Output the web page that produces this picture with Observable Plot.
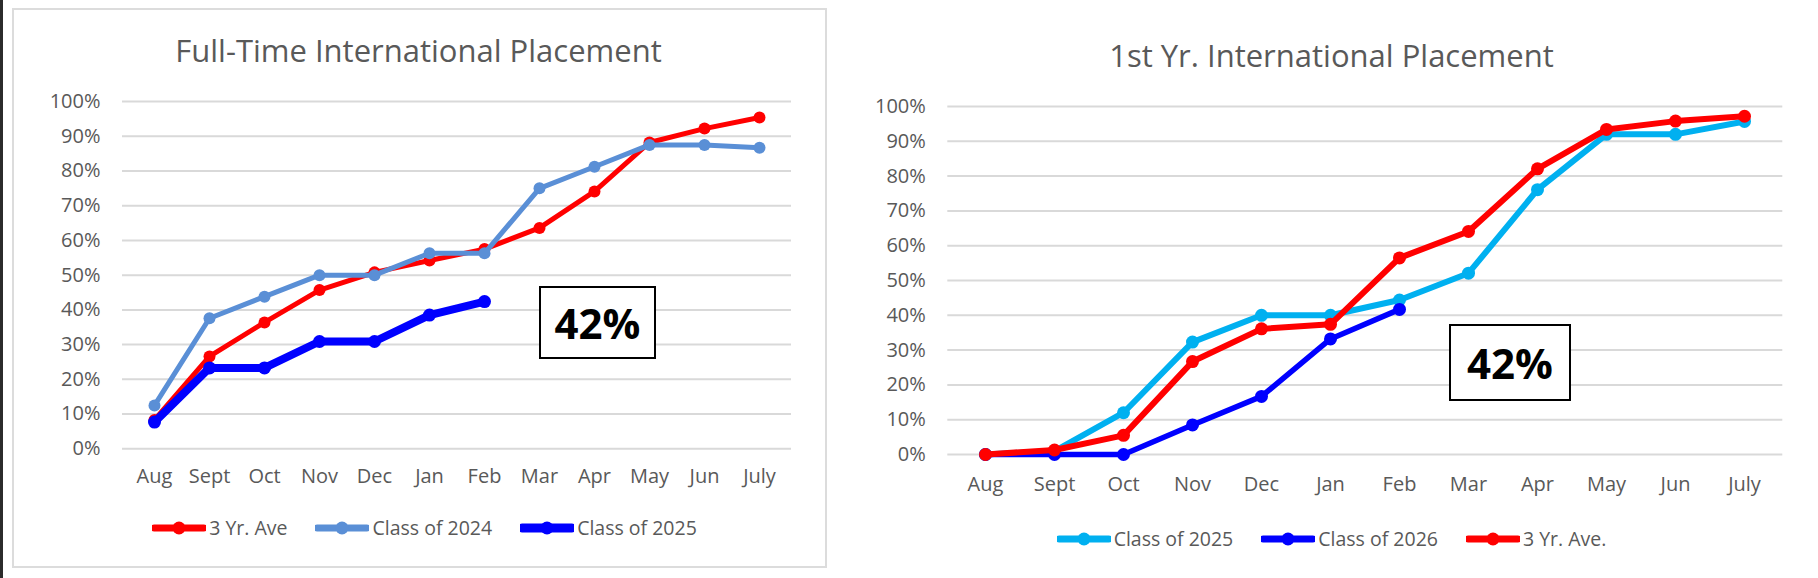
<!DOCTYPE html>
<html><head><meta charset="utf-8">
<script src="https://cdn.jsdelivr.net/npm/d3@7"></script>
<script src="https://cdn.jsdelivr.net/npm/@observablehq/plot@0.6"></script>
<style>
html,body{margin:0;padding:0;background:#fff;}
body{width:1818px;height:578px;position:relative;overflow:hidden;font-family:"Open Sans",sans-serif;color:#595959;}
.abs{position:absolute;}
.strip{left:0;top:0;width:3px;height:578px;background:#2b2b2b;}
.frame{left:12px;top:8px;width:811px;height:556px;border:2px solid #dcdcdc;}
.title{font-size:31px;line-height:40px;text-align:center;white-space:nowrap;color:#595959;}
.legend{display:flex;justify-content:center;align-items:center;gap:28px;font-size:19.5px;line-height:24px;white-space:nowrap;}
.item{display:flex;align-items:center;gap:3px;}
.note{border:2px solid #000;box-sizing:border-box;display:flex;align-items:center;justify-content:center;font-weight:700;font-size:42px;color:#000;background:#fff;}
</style>
</head><body>
<script>
// ---------- data ----------
const months = ["Aug","Sept","Oct","Nov","Dec","Jan","Feb","Mar","Apr","May","Jun","July"];
const yTicks = [0,10,20,30,40,50,60,70,80,90,100];

// Full-Time International Placement
const ftAve3Yr   = [8.3, 26.6, 36.4, 45.7, 50.8, 54.2, 57.5, 63.6, 74.1, 88.2, 92.2, 95.4];
const ftClass2024 = [12.5, 37.6, 43.8, 50.0, 50.0, 56.3, 56.3, 75.0, 81.2, 87.5, 87.5, 86.7];
const ftClass2025 = [7.7, 23.3, 23.3, 30.9, 30.9, 38.5, 42.4];

// 1st Yr. International Placement
const fyClass2025 = [0, 1.0, 12.0, 32.3, 40.0, 40.0, 44.4, 52.1, 76.1, 92.0, 92.0, 95.7];
const fyClass2026 = [0, 0, 0, 8.5, 16.7, 33.2, 41.7];
const fyAve3Yr    = [0, 1.3, 5.5, 26.7, 36.1, 37.4, 56.5, 64.1, 82.1, 93.4, 95.8, 97.2];

const noteText = "42%";

// ---------- helpers ----------
const rows = (vals) => vals.map((v, i) => ({month: months[i], value: v}));

function makeChart({width, height, marginLeft, marginRight, marginTop, marginBottom, series, tickPadX}) {
  const marks = [
    Plot.ruleY(yTicks, {stroke: "#d9d9d9", strokeWidth: 2}),
    Plot.axisY(yTicks, {tickSize: 0, tickPadding: 22, tickFormat: d => d + "%", label: null, fontSize: 20}),
    Plot.axisX({tickSize: 0, tickPadding: tickPadX, label: null, fontSize: 20})
  ];
  for (const s of series) {
    const d = rows(s.values);
    marks.push(Plot.line(d, {x: "month", y: "value", stroke: s.color, strokeWidth: s.width, strokeLinejoin: "round", strokeLinecap: "round"}));
    marks.push(Plot.dot(d, {x: "month", y: "value", fill: s.color, r: s.r}));
  }
  return Plot.plot({
    width, height, marginLeft, marginRight, marginTop, marginBottom,
    style: {fontFamily: "'Open Sans', sans-serif", fontSize: "20px", color: "#595959", background: "transparent", overflow: "visible"},
    x: {type: "point", domain: months, padding: 0.5, label: null},
    y: {domain: [0, 100], label: null},
    marks
  });
}

function legend(items) {
  const div = document.createElement("div");
  div.className = "abs legend";
  for (const it of items) {
    const item = document.createElement("div");
    item.className = "item";
    item.innerHTML = `<svg width="54" height="16"><line x1="2" y1="8" x2="52" y2="8" stroke="${it.color}" stroke-width="${it.lw}" stroke-linecap="round"/><circle cx="27" cy="8" r="6.5" fill="${it.color}"/></svg><span>${it.label}</span>`;
    div.appendChild(item);
  }
  return div;
}

function place(el, {left, top, width, height}) {
  el.style.left = left + "px"; el.style.top = top + "px";
  if (width != null) el.style.width = width + "px";
  if (height != null) el.style.height = height + "px";
  document.body.appendChild(el);
  return el;
}
function div(cls, text) { const d = document.createElement("div"); d.className = "abs " + cls; if (text) d.textContent = text; return d; }

// ---------- page ----------
place(div("strip"), {left: 0, top: 0});
place(div("frame"), {left: 12, top: 8});

// Left chart
const red = "#ff0000", lblue = "#5a8fd6", blue = "#0000ff", cyan = "#00b0f0";
place(div("title", "Full-Time International Placement"), {left: 12, top: 30, width: 813});
const c1 = makeChart({
  width: 830, height: 420, marginLeft: 122, marginRight: 39, marginTop: 21, marginBottom: 51.7, tickPadX: 20,
  series: [
    {values: ftAve3Yr, color: red, width: 5, r: 6},
    {values: ftClass2024, color: lblue, width: 5, r: 6},
    {values: ftClass2025, color: blue, width: 8, r: 6.5}
  ]
});
c1.style.position = "absolute"; c1.style.left = "0px"; c1.style.top = "80px";
document.body.appendChild(c1);
place(legend([
  {label: "3 Yr. Ave", color: red, lw: 7},
  {label: "Class of 2024", color: lblue, lw: 7},
  {label: "Class of 2025", color: blue, lw: 9}
]), {left: 12, top: 516, width: 825});
place(div("note", noteText), {left: 539, top: 286, width: 117, height: 73});

// Right chart
place(div("title", "1st Yr. International Placement"), {left: 845, top: 35, width: 973});
const c2 = makeChart({
  width: 978, height: 430, marginLeft: 107.3, marginRight: 35.7, marginTop: 26, marginBottom: 56, tickPadX: 22,
  series: [
    {values: fyClass2025, color: cyan, width: 6, r: 6.5},
    {values: fyClass2026, color: blue, width: 5.5, r: 6.5},
    {values: fyAve3Yr, color: red, width: 6, r: 6.5}
  ]
});
c2.style.position = "absolute"; c2.style.left = "840px"; c2.style.top = "80px";
document.body.appendChild(c2);
place(legend([
  {label: "Class of 2025", color: cyan, lw: 7},
  {label: "Class of 2026", color: blue, lw: 7},
  {label: "3 Yr. Ave.", color: red, lw: 7}
]), {left: 845, top: 527, width: 973});
place(div("note", noteText), {left: 1449, top: 324, width: 122, height: 77});
</script>
</body></html>
